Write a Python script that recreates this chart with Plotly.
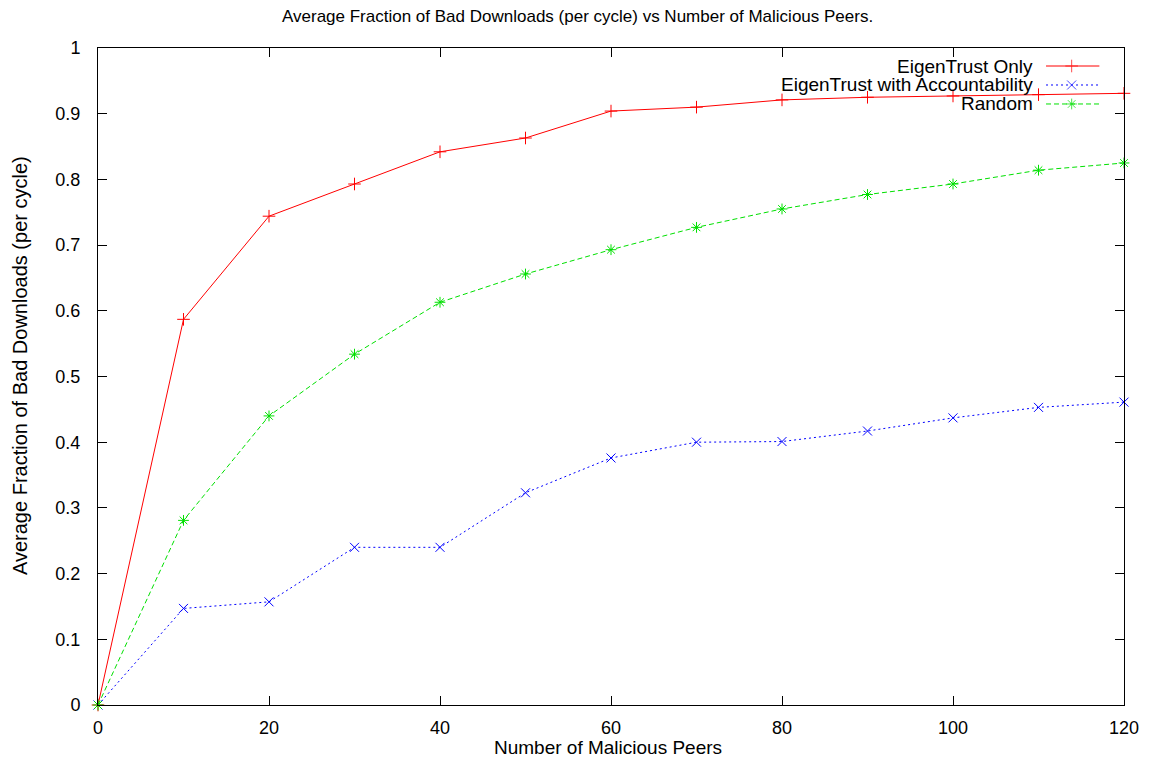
import plotly.graph_objects as go

peers = [0, 10, 20, 30, 40, 50, 60, 70, 80, 90, 100, 110, 120]
eigentrust_only = [0, 0.587, 0.744, 0.793, 0.842, 0.863, 0.904, 0.910, 0.921, 0.925, 0.927, 0.929, 0.931]
eigentrust_acc = [0, 0.147, 0.157, 0.240, 0.240, 0.323, 0.376, 0.400, 0.401, 0.417, 0.437, 0.453, 0.461]
random_sel = [0, 0.281, 0.440, 0.534, 0.613, 0.656, 0.693, 0.727, 0.755, 0.777, 0.793, 0.814, 0.825]

series_names = ["EigenTrust Only", "EigenTrust with Accountability", "Random"]
series_values = [eigentrust_only, eigentrust_acc, random_sel]
colors = ["#ff0000", "#0000ff", "#00e000"]
dashes = ["solid", "2px,3px", "5px,3px"]
symbols = ["cross-thin", "x-thin", "asterisk"]

FONT = "Liberation Sans, Arial, sans-serif"

fig = go.Figure()
for name, vals, c, d, s in zip(series_names, series_values, colors, dashes, symbols):
    fig.add_trace(go.Scatter(
        x=peers, y=vals, name=name, mode="lines+markers",
        line=dict(color=c, width=1, dash=d),
        marker=dict(symbol=s, size=9, color=c, line=dict(color=c, width=1)),
        cliponaxis=False, showlegend=False,
    ))

# gnuplot-style legend (text on the left, sample on the right)
leg_y = [0.9726, 0.9437, 0.9148]
for name, c, d, s, yy in zip(series_names, colors, dashes, symbols, leg_y):
    fig.add_trace(go.Scatter(
        x=[0.924, 0.949, 0.976], y=[yy, yy, yy], mode="lines+markers",
        xaxis="x2", yaxis="y2", showlegend=False, hoverinfo="skip",
        line=dict(color=c, width=1, dash=d),
        marker=dict(symbol=s, size=[0, 9, 0], color=c, line=dict(color=c, width=1)),
        cliponaxis=False,
    ))
    fig.add_annotation(x=0.913, y=yy, xref="paper", yref="paper", text=name,
                       showarrow=False, xanchor="right", yanchor="middle",
                       font=dict(family=FONT, size=19, color="#000"))

# title and axis titles placed like gnuplot
fig.add_annotation(x=0.467, y=1.0472, xref="paper", yref="paper",
                   text="Average Fraction of Bad Downloads (per cycle) vs Number of Malicious Peers.",
                   showarrow=False, xanchor="center", yanchor="middle",
                   font=dict(family=FONT, size=17, color="#000"))
fig.add_annotation(x=0.497, y=-0.0654, xref="paper", yref="paper",
                   text="Number of Malicious Peers", showarrow=False,
                   xanchor="center", yanchor="middle",
                   font=dict(family=FONT, size=19, color="#000"))
fig.add_annotation(x=-0.076, y=0.516, xref="paper", yref="paper",
                   text="Average Fraction of Bad Downloads (per cycle)", showarrow=False,
                   textangle=-90, xanchor="center", yanchor="middle",
                   font=dict(family=FONT, size=20, color="#000"))

axis_common = dict(showline=True, linecolor="black", linewidth=1, mirror="ticks",
                   ticks="inside", ticklen=9, tickcolor="black", showgrid=False,
                   zeroline=False, tickfont=dict(family=FONT, size=18, color="#000"))

# page body has an 8px margin: compensate so the plot frame lands where the reference has it
fig.update_layout(
    width=1145, height=752,
    margin=dict(l=90, r=29, t=40, b=55),
    paper_bgcolor="white", plot_bgcolor="white",
    hovermode=False,
    xaxis=dict(range=[0, 120], dtick=20, tick0=0, ticklabelstandoff=6, **axis_common),
    yaxis=dict(range=[0, 1], dtick=0.1, tick0=0, ticklabelstandoff=8, ticksuffix=" ",
               **axis_common),
    xaxis2=dict(overlaying="x", range=[0, 1], visible=False),
    yaxis2=dict(overlaying="y", range=[0, 1], visible=False),
)

fig.write_html("out.html")
